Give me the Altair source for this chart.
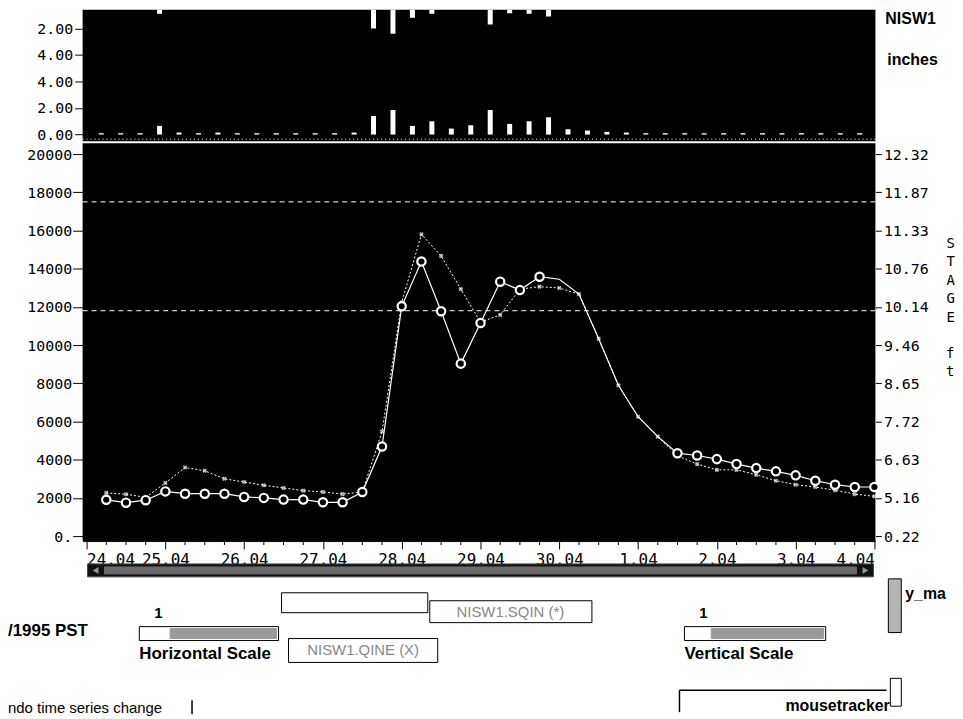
import altair as alt
import pandas as pd

# ---------------- data ----------------
day_labels = ["24.04", "25.04", "26.04", "27.04", "28.04", "29.04",
              "30.04", "1.04", "2.04", "3.04", "4.04"]
flow_ticks = [0, 2000, 4000, 6000, 8000, 10000, 12000, 14000, 16000, 18000, 20000]
stage_labels = ["0.22", "5.16", "6.63", "7.72", "8.65", "9.46",
                "10.14", "10.76", "11.33", "11.87", "12.32"]

# six-hourly flows starting 24.04 06:00 (cfs)
flow_circles = [1900, 1750, 1880, 2340, 2220, 2220, 2220, 2050, 2000, 1910,
                1910, 1770, 1770, 2310, 4690, 12030, 14380, 11770, 9030, 11160,
                13320, 12880, 13580, 13450, 12670, 10330, 7900, 6250, 5210, 4340,
                4220, 4030, 3770, 3560, 3390, 3180, 2900, 2690, 2570, 2570]
flow_dotted = [2260, 2190, 2030, 2780, 3590, 3420, 3000, 2830, 2660, 2520,
               2380, 2310, 2200, 2310, 5470, 12240, 15800, 14670, 12930, 11200,
               11580, 12930, 13060, 12990, 12670, 10330, 7900, 6250, 5210, 4200,
               3770, 3470, 3470, 3210, 2900, 2690, 2570, 2400, 2200, 2080]

# six-hour precipitation bars (inches)
precip_up = [0.10, 0.10, 0.10, 0.65, 0.15, 0.10, 0.15, 0.10, 0.10, 0.10,
             0.10, 0.10, 0.10, 0.15, 1.40, 1.85, 0.65, 1.00, 0.45, 0.70,
             1.85, 0.80, 1.00, 1.30, 0.40, 0.30, 0.20, 0.15, 0.10, 0.10,
             0.10, 0.10, 0.10, 0.10, 0.10, 0.10, 0.10, 0.10, 0.10, 0.10]
precip_hang = [0, 0, 0, 0.90, 0, 0, 0, 0, 0, 0,
               0, 0, 0, 0, 2.00, 2.40, 1.20, 0.90, 0.55, 0.50,
               1.70, 0.85, 0.90, 1.10, 0.50, 0, 0, 0, 0, 0,
               0, 0, 0, 0, 0, 0, 0, 0, 0, 0]
flood_lines = [17500, 11800]

# ---------------- tables ----------------
n = len(flow_circles)
flows = pd.DataFrame({"i": list(range(n)),
                      "t": [(k + 1) * 0.25 for k in range(n)],
                      "a": flow_circles, "b": flow_dotted})
precip = pd.DataFrame({"t": [(k + 0.5) * 0.25 for k in range(len(precip_up))],
                       "up": precip_up, "hang": precip_hang})
minor = pd.DataFrame({"t": [k * 0.25 for k in range(41) if k % 4 != 0]})
flood = pd.DataFrame({"v": flood_lines})
ticks_df = pd.DataFrame({"v": flow_ticks})
one = pd.DataFrame({"d": [0]})

MONO = "DejaVu Sans Mono"
SANS = "Liberation Sans Narrow, Liberation Sans, Arial"
W = 797

xscale = alt.Scale(domain=[-0.0505, 10.0126], nice=False, zero=False)
day_expr = "[" + ",".join("'%s'" % d for d in day_labels) + "][round(datum.value)]"
stage_expr = "[" + ",".join("'%s'" % s for s in stage_labels) + "][round(datum.value / 2000)]"

xaxis = alt.Axis(values=list(range(len(day_labels))), labelExpr=day_expr, title=None,
                 grid=False, tickSize=8, tickColor="black", domainColor="black",
                 labelFont=MONO, labelFontSize=16, labelColor="black",
                 labelFlush=6, labelOverlap=False, labelPadding=3)
X = alt.X("t:Q", scale=xscale, axis=xaxis)
Xn = alt.X("t:Q", scale=xscale, axis=None)

# ---------------- main panel ----------------
yscale = alt.Scale(domain=[-260, 20573], nice=False, zero=False)
yleft = alt.Axis(values=flow_ticks, title=None, grid=False, domain=False,
                 labelExpr="datum.value == 0 ? '0.' : format(datum.value, 'd')",
                 tickSize=10, tickColor="black", labelPadding=1,
                 minExtent=75, maxExtent=75,
                 labelFont=MONO, labelFontSize=15, labelColor="black")
yright = alt.Axis(orient="right", values=flow_ticks, labelExpr=stage_expr,
                  grid=False, domain=False, tickSize=6, tickColor="black",
                  labelPadding=2, labelFont=MONO, labelFontSize=15, labelColor="black",
                  title=["S", "T", "A", "G", "E"], titleAngle=0,
                  titleX=71, titleY=94, titleAlign="left", titleBaseline="top",
                  titleLineHeight=18.5, titleFont=MONO, titleFontSize=14,
                  titleFontWeight="normal", titleColor="black")

def Y(field):
    return alt.Y(field, scale=yscale, axis=yleft)

flood_rules = alt.Chart(flood).mark_rule(color="white", strokeDash=[5, 4], strokeWidth=1).encode(
    y=Y("v:Q"))
line_b = alt.Chart(flows).mark_line(color="white", strokeWidth=1, strokeDash=[2, 2]).encode(
    x=X, y=Y("b:Q"))
line_a = alt.Chart(flows).mark_line(color="white", strokeWidth=1.2).encode(x=X, y=Y("a:Q"))
pts_b = alt.Chart(flows).mark_point(shape="cross", angle=45, filled=True, color="white",
                                    size=22).encode(x=X, y=Y("b:Q"))
pts_a = alt.Chart(flows).transform_filter("datum.i <= 22 || datum.i >= 29").mark_point(
    shape="circle", filled=True, fill="black", stroke="white", strokeWidth=2.2,
    size=70, opacity=1).encode(x=X, y=Y("a:Q"))
minor_ticks = alt.Chart(minor).mark_rule(color="black", strokeWidth=1).encode(
    x=X, y=alt.value(400), y2=alt.value(404))


def rect(x1, x2, y1, y2, fill, stroke="black", sw=1):
    return alt.Chart(one).mark_rect(fill=fill, stroke=stroke, strokeWidth=sw).encode(
        x=alt.value(x1), x2=alt.value(x2), y=alt.value(y1), y2=alt.value(y2))


def label(txt, x, y, size=16, weight="bold", align="left", color="black", font=SANS,
          baseline="middle"):
    return alt.Chart(one).mark_text(text=txt, font=font, fontSize=size, fontWeight=weight,
                                    align=align, baseline=baseline, color=color).encode(
        x=alt.value(x), y=alt.value(y))


ui = [
    # units of the stage axis
    label("f", W + 71, 94 + 6 * 18.5, 14, "normal", font=MONO, baseline="top"),
    label("t", W + 71, 94 + 7 * 18.5, 14, "normal", font=MONO, baseline="top"),
    # scroll bar
    rect(5, 795, 423, 436, "#111111", "#444444"),
    rect(22, 778, 426, 433, "#6a6a6a", "#6a6a6a"),
    alt.Chart(one).mark_point(shape="triangle-left", filled=True, color="#cccccc", size=45).encode(
        x=alt.value(13), y=alt.value(429.5)),
    alt.Chart(one).mark_point(shape="triangle-right", filled=True, color="#cccccc", size=45).encode(
        x=alt.value(787), y=alt.value(429.5)),
    # y_max widget
    rect(810, 823, 438, 492, "#b5b5b5"),
    label("y_ma", 827, 453, 16),
    rect(812, 823, 538, 566, "white"),
    # left controls
    label("/1995 PST", -75, 490, 17),
    rect(57, 197, 486, 500, "white"),
    rect(88, 195, 488, 498, "#9a9a9a", "#9a9a9a"),
    label("1", 72, 472, 15),
    label("Horizontal Scale", 57, 514, 17),
    rect(200, 347, 452, 472, "white"),
    rect(349, 512, 460, 482, "white"),
    label("NISW1.SQIN (*)", 430, 471, 15, "normal", "center", "#888888"),
    rect(207, 357, 498, 522, "white"),
    label("NISW1.QINE (X)", 282, 510, 15, "normal", "center", "#888888"),
    # right controls
    rect(605, 747, 486, 500, "white"),
    rect(632, 745, 488, 498, "#9a9a9a", "#9a9a9a"),
    label("1", 620, 472, 15),
    label("Vertical Scale", 605, 514, 17),
    # bottom row
    alt.Chart(one).mark_rule(color="black", strokeWidth=1.5).encode(
        x=alt.value(600), x2=alt.value(808), y=alt.value(550)),
    alt.Chart(one).mark_rule(color="black", strokeWidth=1.5).encode(
        x=alt.value(600), y=alt.value(550), y2=alt.value(572)),
    label("mousetracker", 759, 566, 16, "bold", "center"),
    label("ndo time series change", -75, 568, 15, "normal"),
    alt.Chart(one).mark_rule(color="black", strokeWidth=1.5).encode(
        x=alt.value(110), y=alt.value(560), y2=alt.value(574)),
]

inner = alt.layer(flood_rules, line_b, line_a, pts_b, pts_a, minor_ticks, *ui)
right_axis = alt.Chart(ticks_df).mark_point(opacity=0).encode(
    y=alt.Y("v:Q", scale=yscale, axis=yright))
main = alt.layer(inner, right_axis).resolve_scale(y="independent").properties(width=W, height=400)

# ---------------- precipitation panel ----------------
ytop = alt.Scale(domain=[-0.5, 9.4], nice=False, zero=False)
ytop_axis = alt.Axis(values=[0, 2, 4, 6, 8], title=None, grid=False, domain=False,
                     labelExpr="format(datum.value <= 4 ? datum.value : 10 - datum.value, '.2f')",
                     tickSize=8, tickColor="black", labelPadding=2,
                     minExtent=75, maxExtent=75,
                     labelFont=MONO, labelFontSize=15, labelColor="black")

bars_up = alt.Chart(precip).transform_calculate(base="0").mark_bar(color="white", width=5).encode(
    x=Xn, y=alt.Y("up:Q", scale=ytop, axis=ytop_axis), y2="base:Q")
bars_hang = alt.Chart(precip).transform_filter("datum.hang > 0").transform_calculate(
    top="10", bot="10 - datum.hang").mark_bar(color="white", width=5, clip=True).encode(
    x=Xn, y=alt.Y("top:Q", scale=ytop, axis=ytop_axis), y2="bot:Q")
sep = alt.Chart(one).transform_calculate(v="-0.35").mark_rule(
    color="white", strokeDash=[1, 3], strokeWidth=1).encode(y=alt.Y("v:Q", scale=ytop, axis=ytop_axis))
top = alt.layer(
    bars_up, bars_hang, sep,
    label("NISW1", 807, 9, 16, "bold", font="Liberation Sans, Arial"),
    label("inches", 809, 50, 16, "bold", font="Liberation Sans, Arial"),
).properties(width=W, height=132)

chart = alt.vconcat(top, main, spacing=0).properties(padding=0, background="white") \
    .configure_view(fill="black", stroke=None)

chart.save("out.html", embed_options={"renderer": "svg", "actions": False})
